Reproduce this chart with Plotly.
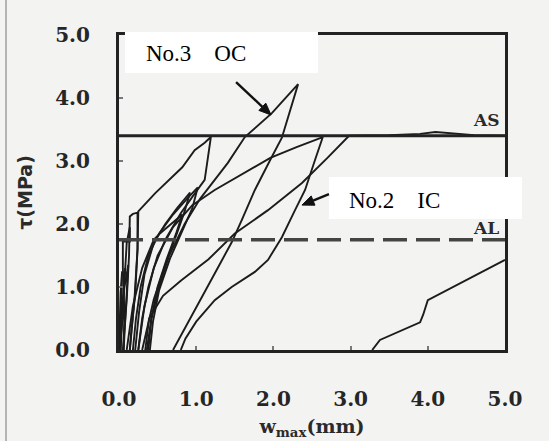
import math
import plotly.graph_objects as go

# Cyclic shear tests: max crack opening w_max (mm) vs. shear stress tau (MPa)
# Early small cycles near the origin
c11_w = [0.00, 0.01, 0.02, 0.04, 0.03, 0.02, 0.01]
c11_t = [0.00, 0.40, 0.90, 1.25, 0.80, 0.30, 0.00]

c12_w = [0.01, 0.04, 0.07, 0.10, 0.12, 0.10, 0.08, 0.06]
c12_t = [0.00, 0.50, 1.00, 1.20, 1.35, 0.90, 0.40, 0.00]

c1_w = [0.00, 0.03, 0.06, 0.08, 0.06, 0.03, 0.02]
c1_t = [0.00, 0.50, 1.00, 1.30, 0.90, 0.40, 0.00]

c2_w = [0.02, 0.05, 0.08, 0.10, 0.14, 0.14, 0.05, 0.05, 0.07, 0.06]
c2_t = [0.00, 0.70, 1.30, 1.70, 1.95, 1.72, 1.72, 1.30, 0.60, 0.00]

c3_w = [0.05, 0.10, 0.13, 0.14, 0.18, 0.24, 0.24, 0.21, 0.16, 0.14]
c3_t = [0.00, 0.80, 1.50, 2.12, 2.16, 2.18, 1.60, 0.90, 0.30, 0.00]

# Cycle peaking at AS level, w ~ 1.2 mm
c4_w = [0.14, 0.20, 0.24, 0.25, 0.47, 0.82, 0.98, 1.11, 1.19,
        1.11, 0.95, 0.80, 0.60, 0.45, 0.33, 0.28, 0.25]
c4_t = [0.00, 0.80, 1.60, 2.20, 2.49, 2.90, 3.17, 3.29, 3.38,
        2.70, 2.43, 2.17, 1.75, 1.30, 0.70, 0.30, 0.00]

# Intermediate cycles
c9_w = [0.21, 0.26, 0.33, 0.45, 0.60, 0.75, 0.92, 0.85, 0.75, 0.60, 0.45, 0.35, 0.30]
c9_t = [0.00, 0.60, 1.20, 1.70, 2.00, 2.25, 2.50, 2.20, 1.85, 1.35, 0.80, 0.30, 0.00]

c10_w = [0.10, 0.18, 0.30, 0.45, 0.53, 0.70, 0.82, 0.74, 0.62, 0.50, 0.42, 0.38]
c10_t = [0.00, 0.70, 1.30, 1.75, 1.85, 2.02, 2.15, 1.85, 1.45, 1.00, 0.50, 0.00]

c13_w = [0.18, 0.22, 0.28, 0.38, 0.52, 0.70, 0.88, 1.02, 0.95, 0.82, 0.66, 0.52, 0.44, 0.40]
c13_t = [0.00, 0.50, 1.00, 1.50, 1.85, 2.15, 2.40, 2.58, 2.25, 1.90, 1.45, 0.95, 0.45, 0.00]

# Cycle peaking at AS level, w ~ 2.6 mm
c5_w = [0.25, 0.30, 0.38, 0.50, 0.70, 0.95, 1.24, 1.60, 1.96, 2.30, 2.54, 2.64,
        2.54, 2.41, 2.28, 2.11, 1.93, 1.76, 1.46, 1.24, 1.00, 0.86, 0.80]
c5_t = [0.00, 0.50, 1.00, 1.50, 1.95, 2.30, 2.54, 2.80, 3.05, 3.22, 3.33, 3.38,
        3.02, 2.54, 2.22, 1.79, 1.43, 1.24, 1.00, 0.79, 0.45, 0.18, 0.00]

# No.3 OC: cycle reaching the maximum stress
c6_w = [0.36, 0.42, 0.52, 0.65, 0.85, 1.05, 1.24, 1.41, 1.63, 1.98, 2.32,
        2.18, 2.11, 1.96, 1.76, 1.59, 1.46, 1.30, 1.10, 0.90, 0.75, 0.70]
c6_t = [0.00, 0.50, 1.00, 1.50, 2.00, 2.40, 2.70, 2.97, 3.38, 3.76, 4.22,
        3.65, 3.37, 3.02, 2.54, 2.06, 1.71, 1.35, 0.90, 0.45, 0.12, 0.00]

# No.2 IC: loading up to AS and sliding along it
c7_w = [0.34, 0.39, 0.57, 0.80, 1.16, 1.50, 1.93, 2.37, 2.70, 2.98,
        3.50, 3.90, 4.10, 4.35, 4.60, 5.00]
c7_t = [0.00, 0.50, 0.86, 1.10, 1.44, 1.85, 2.22, 2.65, 3.05, 3.40,
        3.41, 3.43, 3.46, 3.44, 3.41, 3.40]

# Reloading branch after large residual opening
c8_w = [3.28, 3.38, 3.90, 3.94, 4.00, 4.25, 4.68, 5.00]
c8_t = [0.00, 0.16, 0.44, 0.56, 0.79, 0.95, 1.22, 1.43]

# Allowable stress levels
as_level = 3.40
al_level = 1.75
level_w = [0.0, 5.0]

tick_vals = [0, 1, 2, 3, 4, 5]
tick_text = ["0.0", "1.0", "2.0", "3.0", "4.0", "5.0"]

ink = "#1c1c1c"
bg = "#f3f3f1"

fig = go.Figure()

curves = [(c11_w, c11_t), (c12_w, c12_t), (c1_w, c1_t), (c2_w, c2_t),
          (c3_w, c3_t), (c4_w, c4_t), (c9_w, c9_t), (c10_w, c10_t),
          (c13_w, c13_t), (c5_w, c5_t), (c6_w, c6_t), (c7_w, c7_t),
          (c8_w, c8_t)]
for w, t in curves:
    fig.add_trace(go.Scatter(x=w, y=t, mode="lines",
                             line=dict(color=ink, width=1.9),
                             showlegend=False, hoverinfo="skip"))

fig.add_trace(go.Scatter(x=level_w, y=[as_level, as_level], mode="lines",
                         line=dict(color="#222", width=3),
                         showlegend=False, hoverinfo="skip"))
fig.add_trace(go.Scatter(x=level_w, y=[al_level, al_level], mode="lines",
                         line=dict(color="#444", width=3.5, dash="24px,9px"),
                         showlegend=False, hoverinfo="skip"))

axis_common = dict(
    range=[0, 5], showgrid=False, zeroline=False, automargin=False,
    showline=True, mirror=True, linewidth=3, linecolor="#222",
    ticks="inside", ticklen=4, tickwidth=1.5, tickcolor="#777",
    tickvals=tick_vals, ticktext=tick_text,
    tickfont=dict(family="DejaVu Serif", size=20, color="#262626", weight="bold"),
)
fig.update_xaxes(**axis_common, ticklabelstandoff=29,
                 title=dict(text="w<sub>max</sub>(mm)", standoff=10,
                            font=dict(family="DejaVu Serif", size=19,
                                      color="#2a2a2a", weight="bold")))
fig.update_yaxes(**axis_common, ticklabelstandoff=22,
                 title=dict(text="τ(MPa)", standoff=18,
                            font=dict(family="DejaVu Sans", size=19,
                                      color="#2a2a2a", weight="bold")))


def arrow_shapes(tip_x, tip_y, dx, dy, head_len=12, head_half=5):
    """Shaft and filled head of a pointer, offsets in pixels from the tip
    (dx to the right, dy upward to the tail)."""
    length = math.hypot(dx, dy)
    ux, uy = -dx / length, -dy / length          # tail -> tip direction
    bx, by = -head_len * ux, -head_len * uy      # head base centre
    nx, ny = -uy, ux
    c1 = (bx + head_half * nx, by + head_half * ny)
    c2 = (bx - head_half * nx, by - head_half * ny)
    common = dict(xref="x", yref="y", xsizemode="pixel", ysizemode="pixel",
                  xanchor=tip_x, yanchor=tip_y, layer="above")
    shaft = dict(type="line", x0=dx, y0=dy, x1=bx, y1=by,
                 line=dict(color="#111", width=2.4), **common)
    head = dict(type="path",
                path=f"M 0 0 L {c1[0]:.2f} {c1[1]:.2f} L {c2[0]:.2f} {c2[1]:.2f} Z",
                fillcolor="#111", line=dict(color="#111", width=1), **common)
    return [shaft, head]


label_font = dict(family="Liberation Serif", size=23, color="#000")
level_font = dict(family="DejaVu Serif", size=17, color="#2a2a2a", weight="bold")
gap = "\u00a0" * 4

shapes = [
    dict(type="line", xref="paper", yref="paper",
         x0=-0.2927, x1=-0.2927, y0=-0.29, y1=1.12,
         line=dict(color="#b4b4b4", width=2)),
    dict(type="rect", xref="paper", yref="paper", layer="above",
         x0=0.0155, x1=0.5155, y0=0.879, y1=1.0095,
         fillcolor="white", line=dict(width=0)),
    dict(type="rect", xref="paper", yref="paper", layer="above",
         x0=0.544, x1=1.044, y0=0.416, y1=0.549,
         fillcolor="white", line=dict(width=0)),
]
shapes += arrow_shapes(1.97, 3.73, -35, 33)
shapes += arrow_shapes(2.37, 2.30, 27, 11)

fig.update_layout(
    width=549, height=441, autosize=False,
    margin=dict(l=119, r=44, t=35, b=91),
    paper_bgcolor=bg, plot_bgcolor=bg,
    shapes=shapes,
    annotations=[
        dict(text=f"No.3{gap}OC", xref="paper", yref="paper", x=0.1995, y=0.94,
             xanchor="center", yanchor="middle", showarrow=False, font=label_font),
        dict(text=f"No.2{gap}IC", xref="paper", yref="paper", x=0.715, y=0.476,
             xanchor="center", yanchor="middle", showarrow=False, font=label_font),
        dict(text="AS", x=4.75, y=3.65, xref="x", yref="y", showarrow=False,
             xanchor="center", yanchor="middle", font=level_font),
        dict(text="AL", x=4.75, y=1.94, xref="x", yref="y", showarrow=False,
             xanchor="center", yanchor="middle", font=level_font),
    ],
)

fig.write_html("out.html")
